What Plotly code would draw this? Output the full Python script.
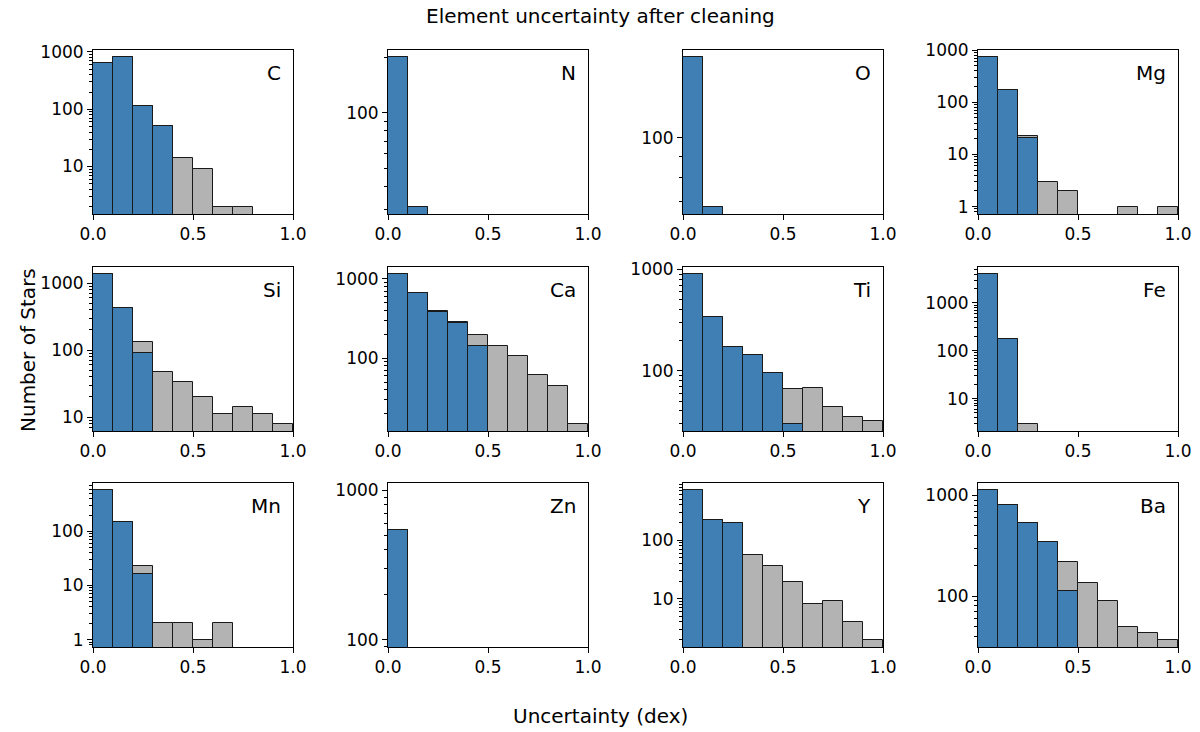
import math
import plotly.graph_objects as go
from plotly.subplots import make_subplots

# Histogram bins: 0.1 dex wide from 0 to 1
bin_edges = [0.0, 0.1, 0.2, 0.3, 0.4, 0.5, 0.6, 0.7, 0.8, 0.9, 1.0]
bin_centers = [0.05, 0.15, 0.25, 0.35, 0.45, 0.55, 0.65, 0.75, 0.85, 0.95]

elements = ["C", "N", "O", "Mg", "Si", "Ca", "Ti", "Fe", "Mn", "Zn", "Y", "Ba"]

# counts per bin, full sample (grey) and after cleaning (blue)
c_all = [631, 802, 114, 51, 14, 9, 2, 2, 0, 0]
c_clean = [631, 802, 114, 51, 0, 0, 0, 0, 0, 0]
n_all = [200, 31, 0, 0, 0, 0, 0, 0, 0, 0]
n_clean = [200, 31, 0, 0, 0, 0, 0, 0, 0, 0]
o_all = [157, 68, 0, 0, 0, 0, 0, 0, 0, 0]
o_clean = [157, 68, 0, 0, 0, 0, 0, 0, 0, 0]
mg_all = [723, 175, 23, 3, 2, 0, 0, 1, 0, 1]
mg_clean = [723, 175, 21, 0, 0, 0, 0, 0, 0, 0]
si_all = [1347, 424, 133, 47, 33, 20, 11, 14, 11, 8]
si_clean = [1347, 424, 92, 0, 0, 0, 0, 0, 0, 0]
ca_all = [1135, 670, 392, 287, 196, 143, 106, 62, 45, 15]
ca_clean = [1135, 670, 377, 276, 141, 0, 0, 0, 0, 0]
ti_all = [892, 340, 170, 143, 94, 66, 68, 44, 35, 32]
ti_clean = [892, 340, 170, 143, 94, 30, 0, 0, 0, 0]
fe_all = [3950, 179, 3, 0, 0, 0, 0, 0, 0, 0]
fe_clean = [3950, 179, 0, 0, 0, 0, 0, 0, 0, 0]
mn_all = [571, 151, 23, 2, 2, 1, 2, 0, 0, 0]
mn_clean = [571, 151, 16, 0, 0, 0, 0, 0, 0, 0]
zn_all = [540, 0, 0, 0, 0, 0, 0, 0, 0, 0]
zn_clean = [540, 0, 0, 0, 0, 0, 0, 0, 0, 0]
y_all = [709, 221, 200, 55, 36, 19, 8, 9, 4, 2]
y_clean = [709, 221, 200, 0, 0, 0, 0, 0, 0, 0]
ba_all = [1122, 800, 537, 347, 217, 136, 89, 49, 43, 37]
ba_clean = [1122, 800, 537, 347, 113, 0, 0, 0, 0, 0]

x_ticks = [0.0, 0.5, 1.0]

panels = list(zip(
    elements,
    [c_all, n_all, o_all, mg_all, si_all, ca_all, ti_all, fe_all, mn_all, zn_all, y_all, ba_all],
    [c_clean, n_clean, o_clean, mg_clean, si_clean, ca_clean, ti_clean, fe_clean,
     mn_clean, zn_clean, y_clean, ba_clean],
))

W, H = 1200, 732
FONT = "DejaVu Sans"
BLUE = "#3f7fb3"
GREY = "#b3b3b3"
EDGE = "#1a1a1a"

col_left = [93, 388, 683, 978]
row_top = [50, 267, 483]
pw, ph = 200, 164

fig = make_subplots(rows=3, cols=4)


def nz(vals):
    return [v if v > 0 else None for v in vals]


def log_range(vals):
    # matplotlib-like autoscale: 5% padding in log space, widen to decades if singular
    pos = [v for v in vals if v > 0]
    lo, hi = math.log10(min(pos)), math.log10(max(pos))
    if lo == hi:
        lo, hi = math.floor(lo), math.ceil(hi)
    pad = 0.05 * (hi - lo)
    return [lo - pad, hi + pad]


for i, (name, all_counts, clean_counts) in enumerate(panels):
    r, c = i // 4 + 1, i % 4 + 1
    fig.add_trace(go.Bar(
        x=bin_centers, y=nz(all_counts), width=0.1,
        marker=dict(color=GREY, line=dict(color=EDGE, width=1)),
        showlegend=False, hoverinfo="skip"
    ), row=r, col=c)
    fig.add_trace(go.Bar(
        x=bin_centers, y=nz(clean_counts), width=0.1,
        marker=dict(color=BLUE, line=dict(color=EDGE, width=1)),
        showlegend=False, hoverinfo="skip"
    ), row=r, col=c)

    yr = log_range(all_counts + clean_counts)
    majors = [10 ** k for k in range(0, 5) if yr[0] <= k <= yr[1]]
    minors = [m * 10 ** k for k in range(-1, 5) for m in range(2, 10)
              if yr[0] <= math.log10(m * 10 ** k) <= yr[1]]

    x0 = col_left[c - 1] / W
    y1 = 1 - row_top[r - 1] / H
    fig.update_xaxes(
        row=r, col=c, range=[bin_edges[0], bin_edges[-1]],
        domain=[x0, x0 + pw / W],
        tickvals=x_ticks, ticktext=[f"{v:.1f}" for v in x_ticks],
        ticks="outside", ticklen=5, tickwidth=1, tickcolor="black",
        showline=True, linecolor="black", linewidth=1, mirror=True,
        showgrid=False, zeroline=False, automargin=False,
        tickfont=dict(family=FONT, size=17, color="black"),
    )
    fig.update_yaxes(
        row=r, col=c, type="log", range=yr,
        domain=[y1 - ph / H, y1],
        tickvals=majors, ticktext=[str(v) for v in majors],
        ticks="outside", ticklen=5, tickwidth=1, tickcolor="black",
        minor=dict(tickvals=minors, ticks="outside", ticklen=3,
                   tickwidth=1, tickcolor="black", showgrid=False),
        showline=True, linecolor="black", linewidth=1, mirror=True,
        showgrid=False, zeroline=False, automargin=False,
        tickfont=dict(family=FONT, size=17, color="black"),
    )
    fig.add_annotation(
        text=name, xref=f"x{i + 1 if i else ''} domain", yref=f"y{i + 1 if i else ''} domain",
        x=0.95, y=0.945, xanchor="right", yanchor="top", showarrow=False,
        font=dict(family=FONT, size=20, color="black"),
    )

fig.add_annotation(text="Element uncertainty after cleaning", xref="paper", yref="paper",
                   x=0.5, y=1 - 16 / H, xanchor="center", yanchor="middle", showarrow=False,
                   font=dict(family=FONT, size=20, color="black"))
fig.add_annotation(text="Uncertainty (dex)", xref="paper", yref="paper",
                   x=0.5, y=1 - 716 / H, xanchor="center", yanchor="middle", showarrow=False,
                   font=dict(family=FONT, size=20, color="black"))
fig.add_annotation(text="Number of Stars", xref="paper", yref="paper",
                   x=28 / W, y=1 - 350 / H, xanchor="center", yanchor="middle",
                   textangle=-90, showarrow=False,
                   font=dict(family=FONT, size=20, color="black"))

fig.update_layout(
    width=W, height=H,
    margin=dict(l=0, r=0, t=0, b=0, pad=0),
    barmode="overlay", bargap=0,
    plot_bgcolor="white", paper_bgcolor="white",
    font=dict(family=FONT, color="black"),
)

fig.write_html("out.html", config={"displayModeBar": False},
               post_script="document.body.style.margin = '0';")
